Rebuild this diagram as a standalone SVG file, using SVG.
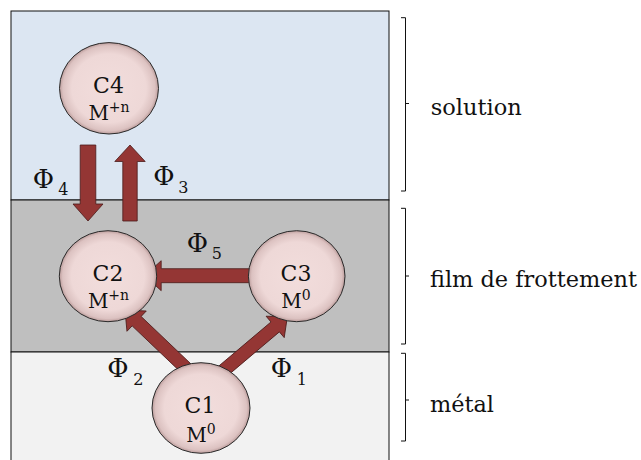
<svg xmlns="http://www.w3.org/2000/svg" width="641" height="460" viewBox="0 0 641 460">
<defs>
<radialGradient id="cg" cx="0.5" cy="0.5" r="0.5">
<stop offset="0" stop-color="#f2dddc"/>
<stop offset="0.75" stop-color="#eed8d7"/>
<stop offset="0.93" stop-color="#dcc2c1"/>
<stop offset="1" stop-color="#bb9c9b"/>
</radialGradient>
<style>
.node{fill:url(#cg);stroke:#2a2a2a;stroke-width:1}
.arr{fill:#943634;stroke:#4a1a19;stroke-width:0.8}
text{font-family:'DejaVu Serif',serif;fill:#111}
.ct{font-size:22px;text-anchor:middle}
.mt{font-size:20px;text-anchor:middle}
.sup{font-size:14px}
.phi{font-size:26px}
.sub{font-size:16px}
.lab{font-size:22px}
.br{fill:none;stroke:#111;stroke-width:1}
</style>
</defs>
<g id="layers">
<rect x="11" y="11" width="378" height="189" fill="#dce6f2" stroke="#111" stroke-width="1"/>
<rect x="11" y="200" width="378" height="152" fill="#bfbfbf" stroke="#111" stroke-width="1"/>
<rect x="11" y="352" width="378" height="120" fill="#f2f2f2" stroke="#111" stroke-width="1"/>
</g>
<g id="braces">
<path class="br" d="M401,17.7 H405.5 V191 H401 M405.5,103.5 H409"/>
<path class="br" d="M401,208.3 H405.5 V344 H401 M405.5,276 H409"/>
<path class="br" d="M401,353.3 H405.5 V441 H401 M405.5,400 H409"/>
</g>
<g id="labels">
<text class="lab" x="430.7" y="115" textLength="91" lengthAdjust="spacingAndGlyphs">solution</text>
<text class="lab" x="430" y="287" textLength="207" lengthAdjust="spacingAndGlyphs">film de frottement</text>
<text class="lab" x="430" y="412" textLength="64" lengthAdjust="spacingAndGlyphs">métal</text>
</g>
<g id="connectors">
<polygon class="arr" transform="translate(88,145) rotate(90)" points="0,-7.8 59,-7.8 59,-15 76,0 59,15 59,7.8 0,7.8"/>
<polygon class="arr" transform="translate(130,221) rotate(-90)" points="0,-7.2 59.5,-7.2 59.5,-15.2 76,0 59.5,15.2 59.5,7.2 0,7.2"/>
<polygon class="arr" transform="translate(261.7,275.7) rotate(180)" points="0,-7 100.5,-7 100.5,-15 117,0 100.5,15 100.5,7 0,7"/>
<polygon class="arr" transform="translate(196,377.7) rotate(223.6)" points="0,-6.5 82,-6.5 82,-14 98,0 82,14 82,6.5 0,6.5"/>
<polygon class="arr" transform="translate(213.3,379.2) rotate(-40.2)" points="0,-6.5 81,-6.5 81,-14 97,0 81,14 81,6.5 0,6.5"/>
<text class="phi" x="32.7" y="188.3">Φ<tspan class="sub" x="58.3" y="195">4</tspan></text>
<text class="phi" x="153.3" y="185">Φ<tspan class="sub" x="178.3" y="193.3">3</tspan></text>
<text class="phi" x="186.7" y="251.7">Φ<tspan class="sub" x="211.7" y="259.3">5</tspan></text>
<text class="phi" x="107.3" y="377.3">Φ<tspan class="sub" x="133.3" y="385">2</tspan></text>
<text class="phi" x="270.7" y="377.3">Φ<tspan class="sub" x="296.7" y="385">1</tspan></text>
</g>
<g id="C4">
<ellipse class="node" cx="109" cy="88.3" rx="49.5" ry="45.7"/>
<text class="ct" x="108.5" y="92.7">C4</text>
<text class="mt" x="109" y="120">M<tspan class="sup" dy="-8">+n</tspan></text>
</g>
<g id="C2">
<ellipse class="node" cx="108" cy="276.2" rx="48.7" ry="45.5"/>
<text class="ct" x="108" y="280.5">C2</text>
<text class="mt" x="108.5" y="308">M<tspan class="sup" dy="-8">+n</tspan></text>
</g>
<g id="C3">
<ellipse class="node" cx="296.7" cy="276.2" rx="48.3" ry="45.5"/>
<text class="ct" x="296" y="280.5">C3</text>
<text class="mt" x="296" y="308">M<tspan class="sup" dy="-8">0</tspan></text>
</g>
<g id="C1">
<ellipse class="node" cx="201" cy="408" rx="49" ry="45.3"/>
<text class="ct" x="200" y="412.7">C1</text>
<text class="mt" x="201" y="441.5">M<tspan class="sup" dy="-8">0</tspan></text>
</g>
</svg>
